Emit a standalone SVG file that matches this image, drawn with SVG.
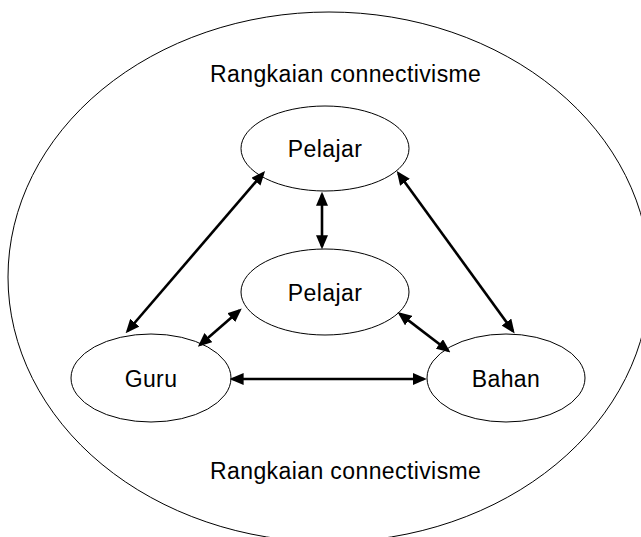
<svg xmlns="http://www.w3.org/2000/svg" width="641" height="537" viewBox="0 0 641 537">
<style>
.node{fill:#fff;stroke:#000;stroke-width:1}
.outer{fill:none;stroke:#000;stroke-width:1}
.lbl{font-family:"Liberation Sans",Arial,sans-serif;font-size:23px;fill:#000;letter-spacing:0.4px}
.mid{text-anchor:middle}
.conn line{stroke:#000;stroke-width:2.6;marker-start:url(#ah);marker-end:url(#ah)}
</style>
<defs>
<marker id="ah" markerUnits="userSpaceOnUse" viewBox="0 0 14 12" markerWidth="14" markerHeight="12" refX="11" refY="6" orient="auto-start-reverse">
<path d="M0,0 L14,6 L0,12 z" fill="#000"/>
</marker>
</defs>
<rect width="641" height="537" fill="#fff"/>
<g id="network">
<ellipse class="outer" cx="329" cy="277" rx="321" ry="265"/>
<text class="lbl" x="210" y="82">Rangkaian connectivisme</text>
<text class="lbl" x="210" y="479">Rangkaian connectivisme</text>
</g>
<g id="pelajar-top">
<ellipse class="node" cx="325" cy="148.5" rx="84" ry="42.5"/>
<text class="lbl mid" x="325" y="157">Pelajar</text>
</g>
<g id="pelajar-mid">
<ellipse class="node" cx="325" cy="292" rx="84" ry="43"/>
<text class="lbl mid" x="325" y="301">Pelajar</text>
</g>
<g id="guru">
<ellipse class="node" cx="151" cy="378" rx="80" ry="44"/>
<text class="lbl mid" x="151" y="387">Guru</text>
</g>
<g id="bahan">
<ellipse class="node" cx="506" cy="378" rx="79" ry="44"/>
<text class="lbl mid" x="506" y="387">Bahan</text>
</g>
<g id="connectors" class="conn">
<line x1="263.1" y1="173.3" x2="127.6" y2="331"/>
<line x1="398.5" y1="173.4" x2="512.9" y2="331"/>
<line x1="322" y1="194.7" x2="322" y2="246.3"/>
<line x1="239.5" y1="310.4" x2="200.1" y2="344.8"/>
<line x1="399.9" y1="313.9" x2="448.1" y2="350.7"/>
<line x1="232.6" y1="379" x2="423.8" y2="379"/>
</g>
</svg>
